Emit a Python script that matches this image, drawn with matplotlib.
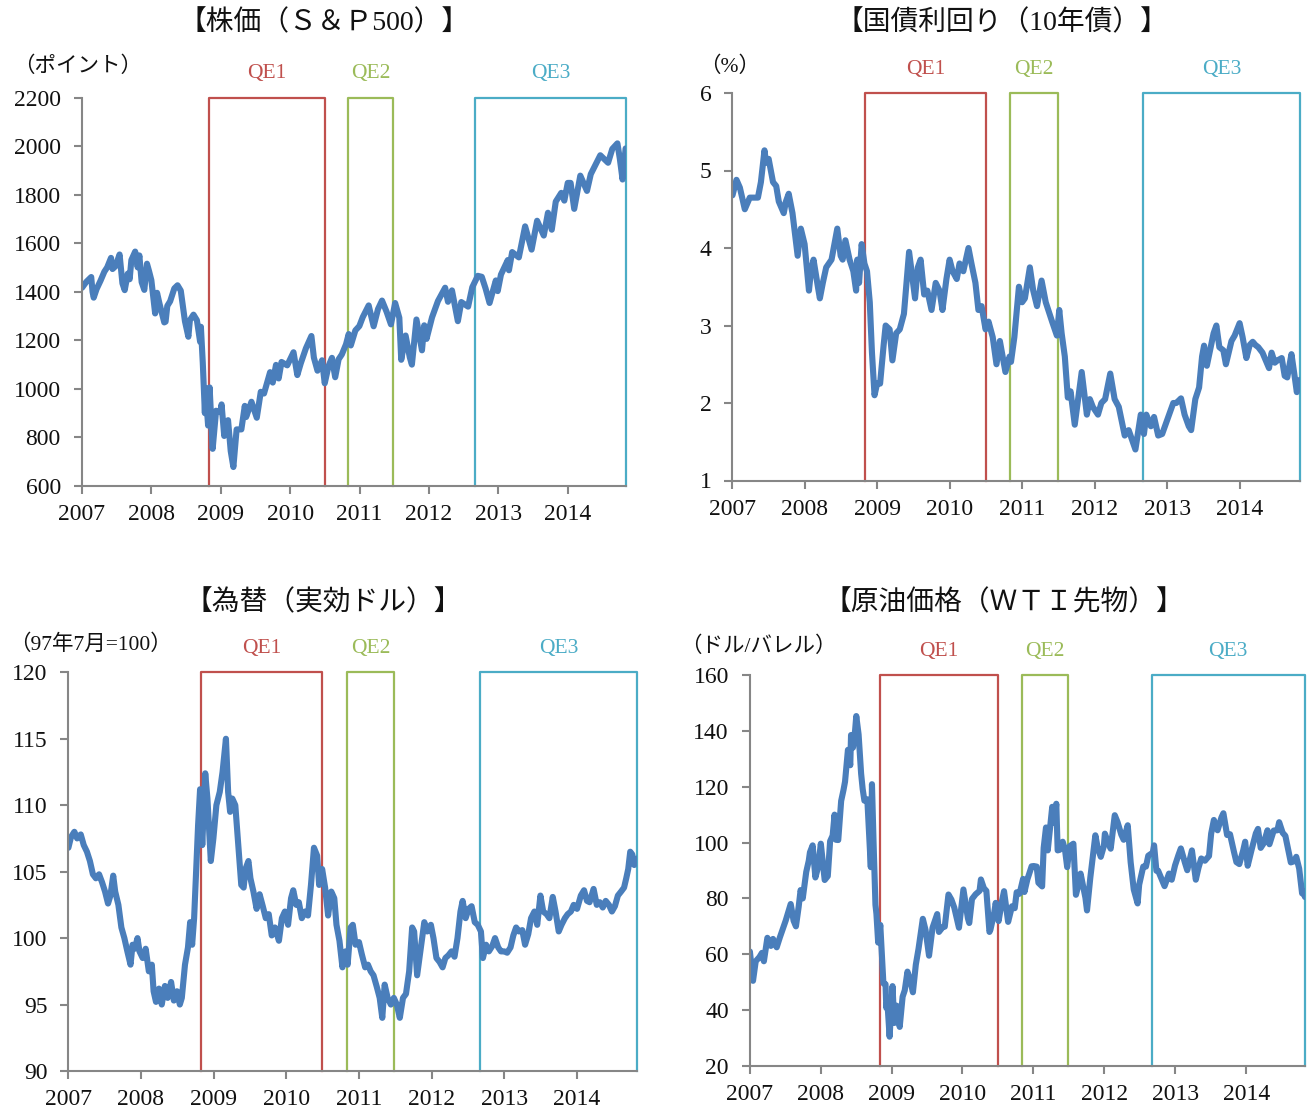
import numpy as np
import pandas as pd
import matplotlib
matplotlib.use("Agg")
import matplotlib.pyplot as plt

plt.rcParams['font.family'] = ['Liberation Serif', 'Noto Sans CJK JP']

# ---------------------------------------------------------------- data
sp500_dates = [
    "2007-01-03", "2007-01-25", "2007-02-20", "2007-02-27", "2007-03-05", "2007-03-20",
    "2007-04-10", "2007-04-30", "2007-05-15", "2007-06-04", "2007-06-12", "2007-06-28",
    "2007-07-19", "2007-08-03", "2007-08-15", "2007-08-31", "2007-09-10", "2007-09-19",
    "2007-10-09", "2007-10-22", "2007-10-31", "2007-11-12", "2007-11-26", "2007-12-10",
    "2007-12-21", "2008-01-02", "2008-01-22", "2008-02-01", "2008-02-14", "2008-03-10",
    "2008-03-17", "2008-03-26", "2008-04-10", "2008-05-02", "2008-05-19", "2008-06-05",
    "2008-06-27", "2008-07-15", "2008-07-23", "2008-08-11", "2008-08-29", "2008-09-15",
    "2008-09-19", "2008-09-29", "2008-10-10", "2008-10-13", "2008-10-27", "2008-11-04",
    "2008-11-20", "2008-12-08", "2008-12-31", "2009-01-06", "2009-01-20", "2009-02-09",
    "2009-02-23", "2009-03-09", "2009-03-26", "2009-04-20", "2009-05-08", "2009-05-15",
    "2009-06-12", "2009-07-10", "2009-07-31", "2009-08-17", "2009-09-18", "2009-10-02",
    "2009-10-19", "2009-11-02", "2009-11-17", "2009-12-17", "2010-01-19", "2010-02-08",
    "2010-02-26", "2010-03-25", "2010-04-23", "2010-05-06", "2010-05-25", "2010-06-18",
    "2010-07-02", "2010-07-22", "2010-08-09", "2010-08-26", "2010-09-13", "2010-09-30",
    "2010-10-22", "2010-11-05", "2010-11-16", "2010-12-10", "2010-12-31", "2011-01-18",
    "2011-02-18", "2011-03-16", "2011-04-08", "2011-04-29", "2011-05-23", "2011-06-15",
    "2011-07-07", "2011-07-29", "2011-08-08", "2011-08-31", "2011-09-22", "2011-10-03",
    "2011-10-27", "2011-11-25", "2011-12-07", "2011-12-19", "2012-01-17", "2012-02-17",
    "2012-03-26", "2012-04-10", "2012-05-01", "2012-06-01", "2012-06-19", "2012-07-25",
    "2012-08-16", "2012-09-14", "2012-10-05", "2012-10-25", "2012-11-15", "2012-12-18",
    "2012-12-28", "2013-01-14", "2013-02-19", "2013-02-25", "2013-03-14", "2013-04-18",
    "2013-05-21", "2013-06-24", "2013-07-23", "2013-08-27", "2013-09-18", "2013-10-08",
    "2013-10-29", "2013-11-27", "2013-12-13", "2013-12-31", "2014-01-15", "2014-02-03",
    "2014-03-07", "2014-04-11", "2014-05-01", "2014-06-20", "2014-07-31", "2014-08-22",
    "2014-09-18", "2014-10-01", "2014-10-15", "2014-10-27", "2014-10-31",
]
sp500_values = [
    1416, 1440, 1460, 1399, 1375, 1410,
    1445, 1482, 1500, 1539, 1493, 1505,
    1553, 1434, 1406, 1474, 1451, 1530,
    1565, 1500, 1549, 1439, 1407, 1515,
    1484, 1447, 1310, 1395, 1350, 1273,
    1276, 1341, 1360, 1413, 1426, 1404,
    1278, 1214, 1282, 1305, 1282, 1193,
    1255, 1106, 899, 1003, 848, 1005,
    752, 909, 903, 935, 805, 870,
    743, 677, 832, 832, 929, 883,
    946, 880, 987, 980, 1068, 1025,
    1098, 1042, 1110, 1096, 1150, 1056,
    1104, 1166, 1217, 1128, 1074, 1117,
    1022, 1093, 1127, 1047, 1121, 1141,
    1183, 1225, 1178, 1240, 1258, 1295,
    1343, 1257, 1328, 1363, 1317, 1265,
    1353, 1292, 1119, 1219, 1129, 1099,
    1285, 1158, 1261, 1205, 1294, 1361,
    1416, 1358, 1405, 1278, 1357, 1338,
    1418, 1465, 1461, 1413, 1353, 1446,
    1402, 1470, 1530, 1488, 1563, 1541,
    1669, 1573, 1692, 1631, 1725, 1655,
    1771, 1807, 1775, 1848, 1848, 1741,
    1878, 1815, 1884, 1962, 1931, 1988,
    2011, 1946, 1862, 1961, 1990,
]

yield_dates = [
    "2007-01-02", "2007-01-22", "2007-02-08", "2007-03-05", "2007-03-30", "2007-04-25",
    "2007-05-10", "2007-05-25", "2007-06-12", "2007-06-20", "2007-07-03", "2007-07-25",
    "2007-08-10", "2007-08-23", "2007-09-17", "2007-09-28", "2007-10-12", "2007-10-31",
    "2007-11-26", "2007-12-12", "2007-12-31", "2008-01-22", "2008-02-01", "2008-02-14",
    "2008-03-07", "2008-03-17", "2008-04-01", "2008-04-18", "2008-05-15", "2008-06-13",
    "2008-06-30", "2008-07-10", "2008-07-24", "2008-08-14", "2008-09-02", "2008-09-16",
    "2008-09-22", "2008-10-01", "2008-10-14", "2008-10-28", "2008-11-10", "2008-11-24",
    "2008-12-05", "2008-12-18", "2008-12-31", "2009-01-15", "2009-02-02", "2009-02-12",
    "2009-03-04", "2009-03-18", "2009-04-06", "2009-04-24", "2009-05-15", "2009-06-10",
    "2009-06-30", "2009-07-10", "2009-07-24", "2009-08-07", "2009-08-25", "2009-09-10",
    "2009-10-01", "2009-10-22", "2009-11-10", "2009-11-25", "2009-12-15", "2009-12-31",
    "2010-01-15", "2010-02-05", "2010-02-19", "2010-03-10", "2010-04-05", "2010-04-20",
    "2010-05-10", "2010-05-25", "2010-06-10", "2010-06-30", "2010-07-15", "2010-08-05",
    "2010-08-24", "2010-09-10", "2010-10-08", "2010-10-29", "2010-11-05", "2010-11-22",
    "2010-12-15", "2010-12-31", "2011-01-14", "2011-02-08", "2011-02-25", "2011-03-16",
    "2011-04-08", "2011-04-29", "2011-05-31", "2011-06-24", "2011-07-06", "2011-07-18",
    "2011-08-03", "2011-08-18", "2011-09-01", "2011-09-22", "2011-10-27", "2011-11-22",
    "2011-12-07", "2011-12-22", "2012-01-17", "2012-02-03", "2012-02-22", "2012-03-19",
    "2012-04-10", "2012-05-01", "2012-05-31", "2012-06-20", "2012-07-24", "2012-08-20",
    "2012-09-05", "2012-09-17", "2012-10-10", "2012-10-26", "2012-11-16", "2012-12-06",
    "2012-12-31", "2013-01-31", "2013-02-15", "2013-03-11", "2013-03-29", "2013-04-19",
    "2013-05-01", "2013-05-22", "2013-06-10", "2013-06-25", "2013-07-05", "2013-07-19",
    "2013-08-22", "2013-09-05", "2013-09-20", "2013-10-10", "2013-10-23", "2013-11-20",
    "2013-12-06", "2013-12-31", "2014-01-15", "2014-02-03", "2014-02-20", "2014-03-07",
    "2014-03-20", "2014-04-04", "2014-04-25", "2014-05-28", "2014-06-10", "2014-06-26",
    "2014-07-10", "2014-07-31", "2014-08-15", "2014-08-28", "2014-09-18", "2014-10-01",
    "2014-10-15", "2014-10-22", "2014-10-31",
]
yield_values = [
    4.68, 4.88, 4.78, 4.50, 4.65, 4.65,
    4.65, 4.85, 5.26, 5.10, 5.15, 4.85,
    4.80, 4.60, 4.45, 4.60, 4.70, 4.45,
    3.90, 4.25, 4.05, 3.45, 3.70, 3.85,
    3.50, 3.35, 3.55, 3.75, 3.85, 4.25,
    3.90, 3.85, 4.10, 3.85, 3.70, 3.45,
    3.85, 3.55, 4.05, 3.80, 3.70, 3.30,
    2.65, 2.10, 2.25, 2.25, 2.75, 3.00,
    2.95, 2.55, 2.90, 2.95, 3.15, 3.95,
    3.55, 3.35, 3.75, 3.85, 3.40, 3.45,
    3.20, 3.55, 3.45, 3.20, 3.60, 3.85,
    3.70, 3.60, 3.80, 3.70, 4.00, 3.80,
    3.55, 3.20, 3.25, 2.95, 3.05, 2.85,
    2.50, 2.80, 2.40, 2.60, 2.53, 2.85,
    3.50, 3.30, 3.35, 3.75, 3.45, 3.25,
    3.58, 3.30, 3.05, 2.87, 3.20, 2.90,
    2.60, 2.07, 2.15, 1.72, 2.40, 1.85,
    2.05, 1.95, 1.85, 2.00, 2.05, 2.38,
    2.05, 1.95, 1.58, 1.65, 1.40, 1.85,
    1.60, 1.85, 1.70, 1.82, 1.58, 1.60,
    1.78, 2.00, 2.00, 2.06, 1.85, 1.70,
    1.65, 2.05, 2.20, 2.60, 2.74, 2.48,
    2.90, 3.00, 2.72, 2.68, 2.50, 2.80,
    2.87, 3.03, 2.85, 2.58, 2.75, 2.79,
    2.75, 2.72, 2.65, 2.45, 2.65, 2.52,
    2.55, 2.58, 2.35, 2.33, 2.63, 2.40,
    2.14, 2.22, 2.30,
]

dollar_dates = [
    "2007-01-02", "2007-01-15", "2007-02-01", "2007-02-15", "2007-03-05", "2007-03-20",
    "2007-04-05", "2007-04-20", "2007-05-05", "2007-05-20", "2007-06-05", "2007-06-20",
    "2007-07-05", "2007-07-20", "2007-08-01", "2007-08-15", "2007-08-25", "2007-09-10",
    "2007-09-25", "2007-10-10", "2007-10-25", "2007-11-10", "2007-11-20", "2007-12-01",
    "2007-12-15", "2007-12-25", "2008-01-10", "2008-01-25", "2008-02-10", "2008-02-25",
    "2008-03-05", "2008-03-17", "2008-04-01", "2008-04-15", "2008-05-01", "2008-05-15",
    "2008-06-01", "2008-06-15", "2008-07-01", "2008-07-15", "2008-07-25", "2008-08-10",
    "2008-08-25", "2008-09-05", "2008-09-15", "2008-09-25", "2008-10-05", "2008-10-15",
    "2008-10-25", "2008-11-05", "2008-11-20", "2008-12-01", "2008-12-18", "2008-12-31",
    "2009-01-15", "2009-02-01", "2009-02-15", "2009-03-04", "2009-03-15", "2009-03-25",
    "2009-04-05", "2009-04-20", "2009-05-05", "2009-05-20", "2009-06-01", "2009-06-10",
    "2009-06-25", "2009-07-05", "2009-07-20", "2009-08-05", "2009-08-20", "2009-09-05",
    "2009-09-20", "2009-10-05", "2009-10-20", "2009-11-05", "2009-11-25", "2009-12-10",
    "2009-12-25", "2010-01-10", "2010-01-25", "2010-02-05", "2010-02-20", "2010-03-05",
    "2010-03-20", "2010-04-05", "2010-04-20", "2010-05-05", "2010-05-20", "2010-06-05",
    "2010-06-15", "2010-06-30", "2010-07-15", "2010-07-30", "2010-08-15", "2010-08-30",
    "2010-09-10", "2010-09-25", "2010-10-10", "2010-10-25", "2010-11-05", "2010-11-20",
    "2010-12-01", "2010-12-15", "2011-01-01", "2011-01-15", "2011-02-01", "2011-02-15",
    "2011-03-01", "2011-03-15", "2011-04-01", "2011-04-15", "2011-04-28", "2011-05-10",
    "2011-05-25", "2011-06-10", "2011-06-25", "2011-07-10", "2011-07-25", "2011-08-10",
    "2011-08-25", "2011-09-10", "2011-09-25", "2011-10-05", "2011-10-20", "2011-11-05",
    "2011-11-25", "2011-12-10", "2011-12-28", "2012-01-10", "2012-01-25", "2012-02-10",
    "2012-02-25", "2012-03-10", "2012-03-25", "2012-04-10", "2012-04-25", "2012-05-10",
    "2012-05-25", "2012-06-05", "2012-06-20", "2012-07-05", "2012-07-20", "2012-08-05",
    "2012-08-20", "2012-09-05", "2012-09-15", "2012-10-01", "2012-10-15", "2012-11-01",
    "2012-11-15", "2012-12-01", "2012-12-15", "2013-01-01", "2013-01-15", "2013-02-01",
    "2013-02-15", "2013-03-01", "2013-03-15", "2013-04-01", "2013-04-15", "2013-05-01",
    "2013-05-15", "2013-06-01", "2013-06-15", "2013-07-01", "2013-07-15", "2013-08-01",
    "2013-08-15", "2013-09-01", "2013-09-15", "2013-10-01", "2013-10-15", "2013-11-01",
    "2013-11-15", "2013-12-01", "2013-12-15", "2014-01-01", "2014-01-20", "2014-02-05",
    "2014-02-20", "2014-03-05", "2014-03-25", "2014-04-10", "2014-04-25", "2014-05-10",
    "2014-05-25", "2014-06-10", "2014-06-25", "2014-07-10", "2014-07-25", "2014-08-10",
    "2014-08-25", "2014-09-05", "2014-09-15", "2014-09-25", "2014-10-05", "2014-10-15",
    "2014-10-31",
]
dollar_values = [
    106.8, 107.6, 108.0, 107.5, 107.8, 107.0,
    106.5, 105.8, 104.8, 104.5, 104.8, 104.2,
    103.5, 102.6, 103.2, 104.7, 103.5, 102.5,
    100.8, 100.0, 99.0, 98.0, 99.5, 99.2,
    100.0, 99.0, 98.5, 99.2, 97.5, 98.0,
    96.0, 95.2, 96.2, 95.0, 96.4, 95.5,
    96.7, 95.3, 96.0, 95.0, 95.5, 98.0,
    99.3, 101.2, 99.5, 101.5, 105.0, 108.5,
    111.2, 107.0, 112.4, 110.5, 105.8, 107.5,
    110.0, 111.0, 112.5, 115.0, 111.0, 109.5,
    110.5, 110.0, 107.0, 104.0, 103.8, 105.2,
    105.8, 104.5, 103.5, 102.2, 103.3, 102.4,
    101.5, 101.8, 100.2, 100.8, 99.8, 101.5,
    102.0, 101.0, 103.0, 103.6, 102.5, 102.7,
    101.5, 102.0, 101.7, 104.0, 106.8, 106.2,
    104.0, 105.2, 103.8, 101.7, 103.5, 103.0,
    101.0, 99.8, 97.8, 99.0, 98.0, 100.8,
    101.0, 99.5, 99.7, 98.8, 97.8, 98.0,
    97.5, 97.2, 96.3, 95.5, 94.0, 96.5,
    95.5, 95.0, 95.5, 95.0, 94.0, 95.5,
    95.8, 97.5, 100.8, 100.5, 97.2, 99.0,
    101.2, 100.5, 101.0, 100.0, 98.5, 98.2,
    97.8, 98.5, 98.7, 99.0, 98.6, 100.0,
    102.0, 102.8, 101.5, 102.2, 102.4, 101.2,
    101.0, 100.5, 98.5, 99.5, 99.0, 99.4,
    100.0, 99.3, 99.0, 99.0, 98.9, 99.3,
    100.2, 100.8, 100.5, 100.6, 99.5, 100.3,
    101.5, 102.0, 101.0, 103.2, 102.0, 101.8,
    101.5, 103.1, 102.0, 100.5, 101.0, 101.5,
    101.8, 102.0, 102.5, 102.2, 103.2, 103.6,
    102.8, 102.7, 103.7, 102.5, 102.7, 102.3,
    102.8, 102.5, 102.0, 102.4, 103.2, 103.5,
    103.8, 104.5, 105.2, 106.5, 106.3, 105.5,
    106.0,
]

oil_dates = [
    "2007-01-02", "2007-01-18", "2007-02-01", "2007-02-20", "2007-03-05", "2007-03-15",
    "2007-04-02", "2007-04-20", "2007-05-01", "2007-05-20", "2007-06-05", "2007-06-20",
    "2007-07-05", "2007-07-20", "2007-07-31", "2007-08-15", "2007-08-27", "2007-09-10",
    "2007-09-20", "2007-10-01", "2007-10-19", "2007-11-01", "2007-11-07", "2007-11-21",
    "2007-12-05", "2007-12-20", "2008-01-02", "2008-01-22", "2008-02-07", "2008-02-19",
    "2008-03-03", "2008-03-13", "2008-03-20", "2008-04-01", "2008-04-16", "2008-04-28",
    "2008-05-06", "2008-05-21", "2008-06-02", "2008-06-06", "2008-06-16", "2008-06-27",
    "2008-07-03", "2008-07-15", "2008-07-28", "2008-08-05", "2008-08-14", "2008-08-29",
    "2008-09-05", "2008-09-16", "2008-09-22", "2008-09-30", "2008-10-10", "2008-10-15",
    "2008-10-24", "2008-11-04", "2008-11-20", "2008-12-01", "2008-12-05", "2008-12-10",
    "2008-12-22", "2009-01-06", "2009-01-15", "2009-01-27", "2009-02-12", "2009-02-27",
    "2009-03-10", "2009-03-24", "2009-04-06", "2009-04-21", "2009-05-06", "2009-05-20",
    "2009-06-11", "2009-06-25", "2009-07-13", "2009-07-31", "2009-08-07", "2009-08-24",
    "2009-09-02", "2009-09-21", "2009-10-02", "2009-10-21", "2009-11-05", "2009-11-20",
    "2009-12-14", "2009-12-31", "2010-01-06", "2010-01-29", "2010-02-05", "2010-02-19",
    "2010-03-10", "2010-03-30", "2010-04-06", "2010-04-21", "2010-05-04", "2010-05-20",
    "2010-05-25", "2010-06-14", "2010-06-21", "2010-07-06", "2010-07-23", "2010-08-03",
    "2010-08-24", "2010-09-13", "2010-09-27", "2010-10-07", "2010-10-22", "2010-11-09",
    "2010-11-16", "2010-12-01", "2010-12-23", "2011-01-03", "2011-01-18", "2011-01-27",
    "2011-02-15", "2011-02-23", "2011-03-07", "2011-03-16", "2011-04-08", "2011-04-19",
    "2011-04-29", "2011-05-06", "2011-05-16", "2011-06-01", "2011-06-13", "2011-06-24",
    "2011-07-07", "2011-07-26", "2011-08-08", "2011-08-23", "2011-09-01", "2011-09-26",
    "2011-10-04", "2011-10-21", "2011-11-16", "2011-11-28", "2011-12-14", "2011-12-30",
    "2012-01-04", "2012-01-17", "2012-02-03", "2012-02-24", "2012-03-09", "2012-03-29",
    "2012-04-10", "2012-05-01", "2012-05-16", "2012-06-01", "2012-06-21", "2012-06-29",
    "2012-07-20", "2012-08-03", "2012-08-15", "2012-09-07", "2012-09-14", "2012-09-26",
    "2012-10-05", "2012-11-07", "2012-11-30", "2012-12-14", "2012-12-31", "2013-01-18",
    "2013-01-30", "2013-02-20", "2013-03-04", "2013-03-28", "2013-04-17", "2013-05-01",
    "2013-05-15", "2013-06-03", "2013-06-24", "2013-07-05", "2013-07-19", "2013-08-07",
    "2013-08-27", "2013-09-06", "2013-09-25", "2013-10-10", "2013-10-30", "2013-11-12",
    "2013-11-27", "2013-12-17", "2013-12-27", "2014-01-09", "2014-01-29", "2014-02-20",
    "2014-03-03", "2014-03-17", "2014-04-01", "2014-04-21", "2014-05-01", "2014-05-23",
    "2014-06-11", "2014-06-20", "2014-07-08", "2014-07-22", "2014-08-06", "2014-08-19",
    "2014-09-05", "2014-09-16", "2014-10-01", "2014-10-16", "2014-10-20", "2014-10-31",
]
oil_values = [
    61.0, 50.5, 57.5, 59.0, 60.5, 57.5,
    65.9, 63.0, 65.5, 62.5, 66.0, 69.0,
    72.0, 75.5, 78.0, 72.0, 70.0, 77.0,
    83.0, 80.0, 89.5, 93.5, 96.5, 99.0,
    87.5, 91.5, 99.6, 86.6, 88.0, 100.5,
    102.5, 110.0, 101.0, 100.9, 114.9, 118.8,
    121.8, 133.2, 127.7, 138.5, 134.0, 140.2,
    145.3, 138.7, 124.7, 119.2, 115.0, 115.5,
    106.2, 91.2, 120.9, 100.6, 77.7, 74.5,
    64.2, 70.5, 49.6, 49.3, 40.8, 43.5,
    30.5, 48.6, 35.4, 41.6, 34.0, 44.8,
    47.1, 53.8, 51.0, 46.4, 56.3, 62.0,
    72.7, 68.7, 59.5, 69.5, 70.9, 74.4,
    68.0, 69.7, 69.9, 81.4, 79.6, 76.7,
    69.5, 79.4, 83.2, 72.9, 71.2, 79.8,
    81.5, 82.7, 86.8, 83.7, 82.7, 68.0,
    68.8, 75.1, 78.4, 71.9, 78.9, 82.6,
    71.6, 77.2, 76.5, 82.2, 81.7, 87.0,
    82.3, 86.8, 91.5, 91.6, 91.4, 85.6,
    84.3, 98.1, 105.4, 97.2, 112.8, 107.1,
    113.9, 97.2, 97.4, 100.3, 97.3, 91.2,
    98.7, 99.6, 81.3, 85.4, 88.9, 80.2,
    75.7, 87.4, 102.6, 98.2, 94.9, 98.8,
    103.2, 100.7, 97.8, 109.8, 107.4, 102.8,
    101.0, 106.2, 93.0, 83.2, 78.2, 84.9,
    91.4, 91.4, 95.3, 96.4, 99.0, 89.9,
    89.9, 84.4, 88.9, 86.7, 91.8, 95.6,
    97.9, 92.8, 90.1, 97.2, 86.7, 91.0,
    94.3, 93.5, 95.2, 103.2, 108.1, 104.4,
    109.0, 110.5, 102.7, 103.0, 96.8, 93.0,
    92.3, 97.2, 100.3, 91.7, 97.4, 103.3,
    104.9, 98.1, 99.7, 104.4, 99.4, 104.3,
    104.4, 107.3, 103.5, 102.4, 97.4, 92.9,
    93.3, 94.9, 90.7, 81.8, 82.7, 80.5,
]

# QE programme windows
qe_labels = ["QE1", "QE2", "QE3"]
qe_starts = ["2008-11-01", "2010-11-01", "2012-09-01"]
qe_ends = ["2010-07-01", "2011-06-28", "2014-10-31"]
qe_colors = ["#C0504D", "#9BBB59", "#4BACC6"]

year_ticks = list(range(2007, 2015))
x_start, x_end = "2007-01-01", "2014-10-31"

# ---------------------------------------------------------------- helpers
W, H = 1309, 1112
LINE = "#4A7EBB"
AXIS = "#868686"


def decimal_year(dates):
    d = pd.to_datetime(pd.Series(dates))
    days = np.where(d.dt.is_leap_year, 366.0, 365.0)
    return (d.dt.year + (d.dt.dayofyear - 1) / days).to_numpy()


def px_rect(left, right, top, bottom):
    return [left / W, 1 - bottom / H, (right - left) / W, (bottom - top) / H]


fig = plt.figure(figsize=(W / 100, H / 100), dpi=100)


def draw_panel(rect, dates, values, ylim, yticks, title, title_xy, unit, unit_xy):
    ax = fig.add_axes(rect)
    x0, x1 = decimal_year([x_start, x_end])
    ax.set_xlim(x0, x1)
    ax.set_ylim(*ylim)

    # QE windows: left, top and right edges of a box spanning the full height
    for lab, s, e, c in zip(qe_labels, qe_starts, qe_ends, qe_colors):
        xs, xe = decimal_year([s, e])
        ax.plot([xs, xs, xe, xe], [ylim[0], ylim[1], ylim[1], ylim[0]],
                color=c, lw=1.6, clip_on=False, zorder=1)
        ax.annotate(lab, xy=((xs + xe) / 2, ylim[1]), xytext=(0, 17),
                    textcoords="offset points", ha="center", va="center",
                    color=c, fontsize=15.5)

    ax.plot(decimal_year(dates), values, color=LINE, lw=4.4,
            solid_joinstyle="round", solid_capstyle="round", zorder=2)

    ax.set_xticks(year_ticks)
    ax.set_xticklabels([str(y) for y in year_ticks])
    ax.set_yticks(yticks)
    ax.set_yticklabels([f"{v:g}" for v in yticks])
    for side in ("top", "right"):
        ax.spines[side].set_visible(False)
    for side in ("left", "bottom"):
        ax.spines[side].set_color(AXIS)
        ax.spines[side].set_linewidth(1.5)
        ax.spines[side].set_zorder(3)
    ax.tick_params(axis="both", direction="out", length=6, width=1.5,
                   color=AXIS, labelsize=17, labelcolor="#111111")
    ax.tick_params(axis="y", pad=9)
    ax.tick_params(axis="x", pad=7)

    fig.text(title_xy[0] / W, 1 - title_xy[1] / H, title, ha="center",
             va="center", fontsize=20, color="#111111")
    fig.text(unit_xy[0] / W, 1 - unit_xy[1] / H, unit, ha="center",
             va="center", fontsize=15.5, color="#111111")
    return ax


draw_panel(px_rect(81.7, 625.6, 97.5, 485.7), sp500_dates, sp500_values,
           (600, 2200), list(range(600, 2201, 200)),
           "【株価（Ｓ＆Ｐ500）】", (324, 23), "（ポイント）", (78, 67))

draw_panel(px_rect(732.3, 1300, 93, 480.5), yield_dates, yield_values,
           (1, 6), list(range(1, 7)),
           "【国債利回り（10年債）】", (1002, 23), "（%）", (730, 67))

draw_panel(px_rect(68.2, 637.4, 672.3, 1071), dollar_dates, dollar_values,
           (90, 120), list(range(90, 121, 5)),
           "【為替（実効ドル）】", (323, 603), "（97年7月=100）", (90, 645))

draw_panel(px_rect(749.7, 1305, 675, 1066), oil_dates, oil_values,
           (20, 160), list(range(20, 161, 20)),
           "【原油価格（ＷＴＩ先物）】", (1004, 603), "（ドル/バレル）", (758, 647))

fig.savefig("out.png", dpi=100, facecolor="white")
